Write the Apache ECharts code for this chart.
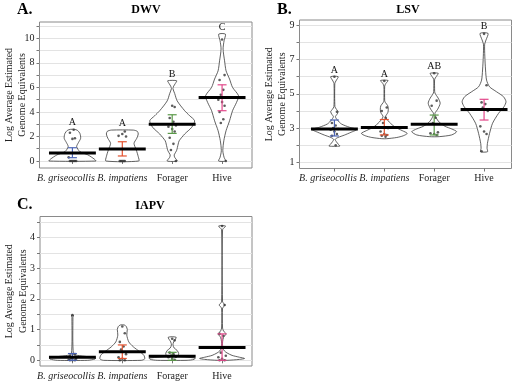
<!DOCTYPE html>
<html><head><meta charset="utf-8">
<script src="https://cdn.jsdelivr.net/npm/echarts@6/dist/echarts.min.js"></script>
<style>html,body{margin:0;padding:0;background:#fff}#c{width:520px;height:383px}</style>
</head><body><div id="c"></div>
<script>
// ---------- shared ----------
const categories = ['B. griseocollis', 'B. impatiens', 'Forager', 'Hive'];
const italicCats = [true, true, false, false];
const groupColors = ['#4b63b3', '#e4532f', '#5b9a49', '#e2488a'];
const yAxisName = 'Log Average Estimated\nGenome Equivalents';

// ---------- A. DWV ----------
const dwvTitle = 'DWV';
const dwvTickLabels = [0, 2, 4, 6, 8, 10];
const dwvGridValues = [0, 1, 2, 3, 4, 5, 6, 7, 8, 9, 10, 11];
const dwvLetters = ['A', 'A', 'B', 'C'];
const dwvMean = [0.66, 0.97, 3.0, 5.17];
const dwvErrLow = [0.27, 0.41, 2.25, 4.1];
const dwvErrHigh = [1.08, 1.57, 3.77, 6.21];
// violin outline: [value, half width in category units]
const dwvProfiles = [
  [[0, 0.47], [0.15, 0.44], [0.5, 0.31], [0.76, 0.15], [1.17, 0.085], [1.5, 0.12], [1.85, 0.165], [2.25, 0.15], [2.5, 0.1], [2.58, 0.04]],
  [[0, 0.33], [0.35, 0.32], [0.9, 0.28], [1.44, 0.235], [1.85, 0.29], [2.2, 0.32], [2.42, 0.3], [2.52, 0.22]],
  [[0, 0.1], [0.3, 0.05], [0.5, 0.04], [0.84, 0.087], [1.38, 0.12], [1.65, 0.14], [2.2, 0.25], [2.74, 0.39], [3.28, 0.45], [3.69, 0.35], [4.1, 0.25], [4.9, 0.1], [5.5, 0.05], [5.9, 0.015], [6.1, 0.03], [6.3, 0.06], [6.54, 0.09]],
  [[0, 0.07], [0.3, 0.04], [0.84, 0.015], [1.65, 0.035], [2.47, 0.08], [3.28, 0.15], [4.1, 0.21], [4.78, 0.29], [5.32, 0.33], [6.0, 0.21], [6.68, 0.15], [7.35, 0.08], [8.17, 0.05], [9.12, 0.02], [9.8, 0.04], [10.34, 0.067]]
];
const dwvPoints = [
  [0, 0, 0, 0, 0, 0, 0.3, 1.8, 1.85, 2.3, 2.55],
  [0, 0, 0, 0, 0, 2.0, 2.05, 2.2, 2.4],
  [4.5, 4.4, 3.5, 3.2, 3.0, 2.9, 2.8, 2.6, 2.4, 1.9, 1.4, 0.9, 0],
  [9.9, 7.0, 6.6, 5.8, 5.4, 5.2, 5.0, 4.8, 4.5, 4.0, 3.4, 3.1, 0]
];

// ---------- B. LSV ----------
const lsvTitle = 'LSV';
const lsvTickLabels = [1, 3, 5, 7, 9];
const lsvGridValues = [1, 2, 3, 4, 5, 6, 7, 8, 9];
const lsvLetters = ['A', 'A', 'AB', 'B'];
const lsvMean = [2.94, 3.03, 3.22, 4.08];
const lsvErrLow = [2.54, 2.6, 2.6, 3.47];
const lsvErrHigh = [3.47, 3.5, 3.76, 4.68];
const lsvProfiles = [
  [[1.95, 0.11], [2.05, 0.08], [2.2, 0.04], [2.34, 0.015], [2.45, 0.07], [2.59, 0.2], [2.75, 0.33], [2.92, 0.45], [3.05, 0.3], [3.24, 0.14], [3.47, 0.06], [3.66, 0.02], [3.8, 0.05], [3.95, 0.075], [4.1, 0.04], [4.25, 0.01], [5.6, 0.008], [5.75, 0.03], [6.0, 0.075]],
  [[2.38, 0.05], [2.45, 0.25], [2.55, 0.38], [2.69, 0.46], [2.85, 0.36], [3.05, 0.22], [3.35, 0.1], [3.66, 0.025], [3.9, 0.07], [4.1, 0.08], [4.3, 0.07], [4.5, 0.02], [4.6, 0.008], [5.45, 0.008], [5.6, 0.03], [5.78, 0.075]],
  [[2.5, 0.1], [2.6, 0.35], [2.79, 0.45], [2.95, 0.35], [3.1, 0.22], [3.35, 0.1], [3.6, 0.04], [3.86, 0.015], [4.1, 0.07], [4.45, 0.12], [4.75, 0.08], [5.05, 0.015], [5.4, 0.008], [5.85, 0.01], [6.0, 0.04], [6.2, 0.08]],
  [[1.62, 0.07], [1.82, 0.06], [2.1, 0.067], [2.69, 0.11], [3.28, 0.17], [3.86, 0.29], [4.25, 0.4], [4.54, 0.44], [4.83, 0.39], [5.12, 0.25], [5.41, 0.11], [5.8, 0.05], [6.39, 0.03], [7.2, 0.015], [7.9, 0.012], [8.15, 0.04], [8.53, 0.08]]
];
const lsvPoints = [
  [6.0, 3.95, 3.3, 3.15, 3.0, 2.95, 2.9, 2.8, 2.65, 2.55, 2.0],
  [5.75, 4.2, 4.0, 3.6, 3.3, 3.0, 2.8, 2.65, 2.6, 2.55, 2.5],
  [6.2, 4.6, 4.3, 3.6, 3.3, 2.75, 2.7, 2.65, 2.6],
  [8.5, 5.5, 4.5, 4.4, 4.2, 4.0, 3.1, 2.8, 2.65, 1.65]
];

// ---------- C. IAPV ----------
const iapvTitle = 'IAPV';
const iapvTickLabels = [0, 1, 2, 3, 4];
const iapvGridValues = [0, 0.5, 1, 1.5, 2, 2.5, 3, 3.5, 4, 4.5];
const iapvLetters = ['', '', '', ''];
const iapvMean = [0.1, 0.28, 0.13, 0.42];
const iapvErrLow = [0.0, 0.06, 0.0, 0.0];
const iapvErrHigh = [0.22, 0.5, 0.26, 0.86];
const iapvProfiles = [
  [[0, 0.3], [0.04, 0.45], [0.08, 0.46], [0.12, 0.3], [0.16, 0.1], [0.2, 0.02], [1.4, 0.01], [1.47, 0.02]],
  [[0, 0.38], [0.05, 0.45], [0.17, 0.43], [0.28, 0.35], [0.44, 0.22], [0.6, 0.13], [0.82, 0.09], [1.0, 0.1], [1.1, 0.08], [1.15, 0.04]],
  [[0, 0.3], [0.03, 0.44], [0.07, 0.46], [0.11, 0.25], [0.14, 0.12], [0.22, 0.13], [0.32, 0.1], [0.4, 0.04], [0.5, 0.015], [0.6, 0.03], [0.75, 0.08]],
  [[0, 0.1], [0.03, 0.35], [0.06, 0.45], [0.1, 0.35], [0.16, 0.2], [0.24, 0.1], [0.3, 0.05], [0.4, 0.015], [0.6, 0.01], [0.75, 0.03], [0.86, 0.08], [0.95, 0.03], [1.05, 0.01], [1.7, 0.01], [1.8, 0.06], [1.9, 0.01], [4.25, 0.01], [4.37, 0.07]]
];
const iapvPoints = [
  [1.47, 0.2, 0.15, 0.1, 0.08, 0.05, 0.02, 0, 0, 0],
  [1.1, 0.88, 0.6, 0.45, 0.35, 0.2, 0.1, 0.05, 0, 0],
  [0.7, 0.65, 0.25, 0.2, 0.15, 0.12, 0.1, 0.05, 0.02],
  [4.37, 1.8, 0.86, 0.8, 0.25, 0.15, 0.1, 0.05, 0, 0]
];

// ---------- chart ----------
const FONT = "'Liberation Serif', 'DejaVu Serif', serif";
const jitterPattern = [0, 0.05, -0.05, 0.025, -0.025, 0.075, -0.075];

function xAxisFor(gi, min, max) {
  return {
    type: 'value', gridIndex: gi, min: min, max: max,
    splitLine: { show: false },
    axisLine: { show: false },
    axisTick: { show: true, customValues: [1, 2, 3, 4], length: 3, lineStyle: { color: '#777' } },
    axisLabel: {
      customValues: [1, 2, 3, 4], margin: 5, showMinLabel: true, showMaxLabel: true, hideOverlap: false,
      fontFamily: FONT, fontSize: 10, color: '#222',
      formatter: v => { const i = Math.round(v) - 1; return i === 0 ? '{g|' + categories[i] + '}' : (italicCats[i] ? '{i|' + categories[i] + '}' : categories[i]); },
      rich: {
        i: { fontStyle: 'italic', fontFamily: FONT, fontSize: 10, color: '#222' },
        g: { fontStyle: 'italic', fontFamily: FONT, fontSize: 10, color: '#222', padding: [0, 13, 0, 0] }
      }
    }
  };
}
function yAxisFor(gi, min, max, gridVals, labelVals) {
  return {
    type: 'value', gridIndex: gi, min: min, max: max,
    name: yAxisName, nameLocation: 'middle', nameRotate: 90, nameGap: 10, nameMoveOverlap: false,
    nameTextStyle: { fontFamily: FONT, fontSize: 10, color: '#222', lineHeight: 13.5 },
    axisLine: { show: false },
    axisTick: { show: true, customValues: gridVals, length: 3, lineStyle: { color: '#777' } },
    axisLabel: { customValues: labelVals, margin: 5, fontFamily: FONT, fontSize: 10, color: '#222', showMinLabel: true, showMaxLabel: true },
    splitLine: { show: true, lineStyle: { color: '#e3e3e3', width: 1 } }
  };
}

function panelSeries(gi, profiles, points, mean, lo, hi, letters) {
  const base = categories.map((c, i) => [i + 1, mean[i]]);
  const scatterData = [];
  points.forEach((arr, i) => arr.forEach((v, j) => scatterData.push([i + 1 + jitterPattern[j % jitterPattern.length], v])));
  return [
    { type: 'custom', xAxisIndex: gi, yAxisIndex: gi, data: base, z: 2, silent: true,
      renderItem: (p, api) => {
        const c = api.value(0); const prof = profiles[p.dataIndex];
        const right = prof.map(q => api.coord([c + q[1], q[0]]));
        const left = prof.slice().reverse().map(q => api.coord([c - q[1], q[0]]));
        return { type: 'polygon', shape: { points: right.concat(left), smooth: 0.25 },
                 style: { fill: '#fff', stroke: '#3a3a3a', lineWidth: 0.8 } };
      } },
    { type: 'scatter', xAxisIndex: gi, yAxisIndex: gi, data: scatterData, z: 3, silent: true,
      symbol: 'circle', symbolSize: 2.6, itemStyle: { color: '#333' } },
    { type: 'custom', xAxisIndex: gi, yAxisIndex: gi, data: base, z: 4, silent: true,
      renderItem: (p, api) => {
        const c = api.value(0); const i = p.dataIndex; const col = groupColors[i];
        const a = api.coord([c, lo[i]]), b = api.coord([c, hi[i]]);
        const l1 = api.coord([c - 0.09, lo[i]]), r1 = api.coord([c + 0.09, lo[i]]);
        const l2 = api.coord([c - 0.09, hi[i]]), r2 = api.coord([c + 0.09, hi[i]]);
        const st = { stroke: col, lineWidth: 1.2 };
        return { type: 'group', children: [
          { type: 'line', shape: { x1: a[0], y1: a[1], x2: b[0], y2: b[1] }, style: st },
          { type: 'line', shape: { x1: l1[0], y1: l1[1], x2: r1[0], y2: r1[1] }, style: st },
          { type: 'line', shape: { x1: l2[0], y1: l2[1], x2: r2[0], y2: r2[1] }, style: st }
        ] };
      } },
    { type: 'custom', xAxisIndex: gi, yAxisIndex: gi, data: base, z: 5, silent: true,
      renderItem: (p, api) => {
        const c = api.value(0); const m = api.value(1);
        const a = api.coord([c - 0.47, m]), b = api.coord([c + 0.47, m]);
        return { type: 'line', shape: { x1: a[0], y1: a[1], x2: b[0], y2: b[1] }, style: { stroke: '#000', lineWidth: 3 } };
      } },
    { type: 'custom', xAxisIndex: gi, yAxisIndex: gi, data: base, z: 6, silent: true, clip: false,
      renderItem: (p, api) => {
        const c = api.value(0); const i = p.dataIndex;
        const top = Math.max.apply(null, profiles[i].map(q => q[0]));
        const pt = api.coord([c, top]);
        return { type: 'text', x: pt[0], y: pt[1] - 1.5,
                 style: { text: letters[i], fill: '#111', font: "10px " + FONT, textAlign: 'center', textVerticalAlign: 'bottom' } };
      } }
  ];
}

const chart = echarts.init(document.getElementById('c'), null, { renderer: 'canvas' });
const gridStyle = { show: true, borderColor: '#8a8a8a', borderWidth: 1, backgroundColor: '#fff', containLabel: false, outerBoundsMode: 'none' };
const option = {
  animation: false,
  backgroundColor: '#fff',
  grid: [
    Object.assign({ left: 39.5, top: 22, width: 212.5, height: 146 }, gridStyle),
    Object.assign({ left: 299.5, top: 20, width: 212, height: 148.5 }, gridStyle),
    Object.assign({ left: 40, top: 216.5, width: 212, height: 149.5 }, gridStyle)
  ],
  xAxis: [xAxisFor(0, 0.34, 4.6), xAxisFor(1, 0.3, 4.55), xAxisFor(2, 0.35, 4.6)],
  yAxis: [
    yAxisFor(0, -0.57, 11.33, dwvGridValues, dwvTickLabels),
    yAxisFor(1, 0.64, 9.31, lsvGridValues, lsvTickLabels),
    yAxisFor(2, -0.185, 4.68, iapvGridValues, iapvTickLabels)
  ],
  graphic: [
    { type: 'text', x: 17, y: 10, style: { text: 'A.', font: "bold 16px " + FONT, fill: '#000', textVerticalAlign: 'middle' } },
    { type: 'text', x: 146, y: 10, style: { text: dwvTitle, font: "bold 12px " + FONT, fill: '#000', textAlign: 'center', textVerticalAlign: 'middle' } },
    { type: 'text', x: 277, y: 10, style: { text: 'B.', font: "bold 16px " + FONT, fill: '#000', textVerticalAlign: 'middle' } },
    { type: 'text', x: 408, y: 10, style: { text: lsvTitle, font: "bold 12px " + FONT, fill: '#000', textAlign: 'center', textVerticalAlign: 'middle' } },
    { type: 'text', x: 17, y: 205, style: { text: 'C.', font: "bold 16px " + FONT, fill: '#000', textVerticalAlign: 'middle' } },
    { type: 'text', x: 150, y: 206, style: { text: iapvTitle, font: "bold 12px " + FONT, fill: '#000', textAlign: 'center', textVerticalAlign: 'middle' } }
  ],
  series: [].concat(
    panelSeries(0, dwvProfiles, dwvPoints, dwvMean, dwvErrLow, dwvErrHigh, dwvLetters),
    panelSeries(1, lsvProfiles, lsvPoints, lsvMean, lsvErrLow, lsvErrHigh, lsvLetters),
    panelSeries(2, iapvProfiles, iapvPoints, iapvMean, iapvErrLow, iapvErrHigh, iapvLetters)
  )
};
chart.setOption(option);
</script>
</body></html>
